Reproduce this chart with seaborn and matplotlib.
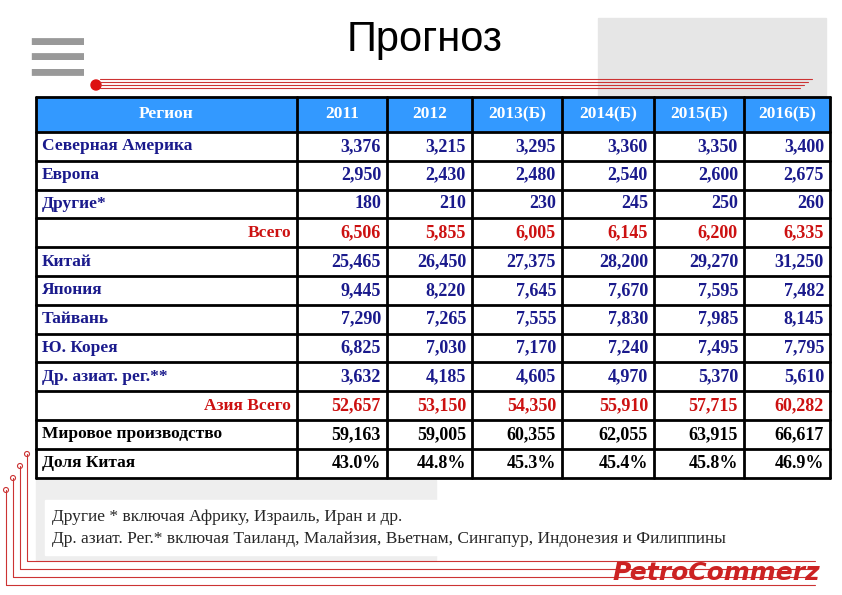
import matplotlib
matplotlib.use("Agg")
import matplotlib.pyplot as plt
import seaborn as sns
from matplotlib.patches import Rectangle, Circle

sns.set_style("white")
plt.rcParams['font.family'] = ['Liberation Serif', 'DejaVu Serif']

title = "Прогноз"
columns = ["Регион", "2011", "2012", "2013(Б)", "2014(Б)", "2015(Б)", "2016(Б)"]
regions = ["Северная Америка", "Европа", "Другие*", "Всего", "Китай", "Япония", "Тайвань",
           "Ю. Корея", "Др. азиат. рег.**", "Азия Всего", "Мировое производство", "Доля Китая"]
values = [
    ["3,376", "3,215", "3,295", "3,360", "3,350", "3,400"],
    ["2,950", "2,430", "2,480", "2,540", "2,600", "2,675"],
    ["180", "210", "230", "245", "250", "260"],
    ["6,506", "5,855", "6,005", "6,145", "6,200", "6,335"],
    ["25,465", "26,450", "27,375", "28,200", "29,270", "31,250"],
    ["9,445", "8,220", "7,645", "7,670", "7,595", "7,482"],
    ["7,290", "7,265", "7,555", "7,830", "7,985", "8,145"],
    ["6,825", "7,030", "7,170", "7,240", "7,495", "7,795"],
    ["3,632", "4,185", "4,605", "4,970", "5,370", "5,610"],
    ["52,657", "53,150", "54,350", "55,910", "57,715", "60,282"],
    ["59,163", "59,005", "60,355", "62,055", "63,915", "66,617"],
    ["43.0%", "44.8%", "45.3%", "45.4%", "45.8%", "46.9%"],
]
footnotes = ["Другие * включая Африку, Израиль, Иран и др.",
             "Др. азиат. Рег.* включая Таиланд, Малайзия, Вьетнам, Сингапур, Индонезия и Филиппины"]

BLUE = "#1a1a8c"; RED = "#cc1111"; BLACK = "#000000"
row_colors = [BLUE, BLUE, BLUE, RED, BLUE, BLUE, BLUE, BLUE, BLUE, RED, BLACK, BLACK]

fig = plt.figure(figsize=(8.42, 5.95), dpi=100)
ax = fig.add_axes([0, 0, 1, 1])
ax.set_xlim(0, 842); ax.set_ylim(595, 0); ax.axis("off")

# decorations
ax.add_patch(Rectangle((598, 18), 228, 80, color="#e6e6e6", zorder=0))
for i, y in enumerate([79, 82, 85, 88]):
    ax.plot([100, 812 - i * 4], [y, y], color="#cc3333", lw=0.8)
ax.add_patch(Circle((96, 85), 5, color="#dd1111"))
for i in range(4):
    x = 6 + i * 7
    ytop = 490 - i * 12
    yb = 585 - i * 8
    ax.plot([x, x, 815], [ytop, yb, yb], color="#cc3333", lw=0.8)
    ax.add_patch(Circle((x, ytop), 2.5, fill=False, ec="#cc3333", lw=0.8))
ax.add_patch(Rectangle((36, 480), 400, 80, color="#eeeeee", zorder=0))
ax.text(22, 60, "\u2261", fontsize=60, color="#999999", ha="left", va="center", family="DejaVu Sans")
ax.text(820, 573, "PetroCommerz", fontsize=18, color="#cc2222", ha="right", va="center",
        family="DejaVu Sans", style="italic", weight="bold")

ax.text(425, 40, title, fontsize=30, ha="center", va="center", family="Liberation Sans", color="black")

# table
xs = [36, 297, 387, 472, 562, 654, 744, 830]
top = 97; hh = 35; rh = 28.8
ax.add_patch(Rectangle((xs[0], top), xs[-1] - xs[0], hh, color="#3399ff", zorder=1))
ax.add_patch(Rectangle((xs[0], top + hh), xs[-1] - xs[0], rh * len(regions), color="white", zorder=1))
for j, c in enumerate(columns):
    ax.text((xs[j] + xs[j + 1]) / 2, top + hh / 2, c, color="white", fontsize=12.5,
            weight="bold", ha="center", va="center", zorder=3)
for i, r in enumerate(regions):
    yc = top + hh + rh * (i + 0.5)
    col = row_colors[i]
    if r in ("Всего", "Азия Всего"):
        ax.text(xs[1] - 6, yc, r, color=col, fontsize=12.5, weight="bold", ha="right", va="center", zorder=3)
    else:
        ax.text(xs[0] + 6, yc, r, color=col, fontsize=12.5, weight="bold", ha="left", va="center", zorder=3)
    for j, v in enumerate(values[i]):
        ax.text(xs[j + 2] - 6, yc, v, color=col, fontsize=13, weight="bold", ha="right", va="center", zorder=3)
bottom = top + hh + rh * len(regions)
for x in xs:
    ax.plot([x, x], [top, bottom], color="black", lw=2, zorder=4)
for k in range(len(regions) + 1):
    y = top + hh + rh * k
    ax.plot([xs[0], xs[-1]], [y, y], color="black", lw=2, zorder=4)
ax.plot([xs[0], xs[-1]], [top, top], color="black", lw=2, zorder=4)

# footnotes
ax.add_patch(Rectangle((45, 500), 715, 55, color="white", zorder=1))
for k, t in enumerate(footnotes):
    ax.text(52, 517 + 22 * k, t, fontsize=12.5, ha="left", va="center", zorder=3)

fig.savefig("out.png", dpi=100)
